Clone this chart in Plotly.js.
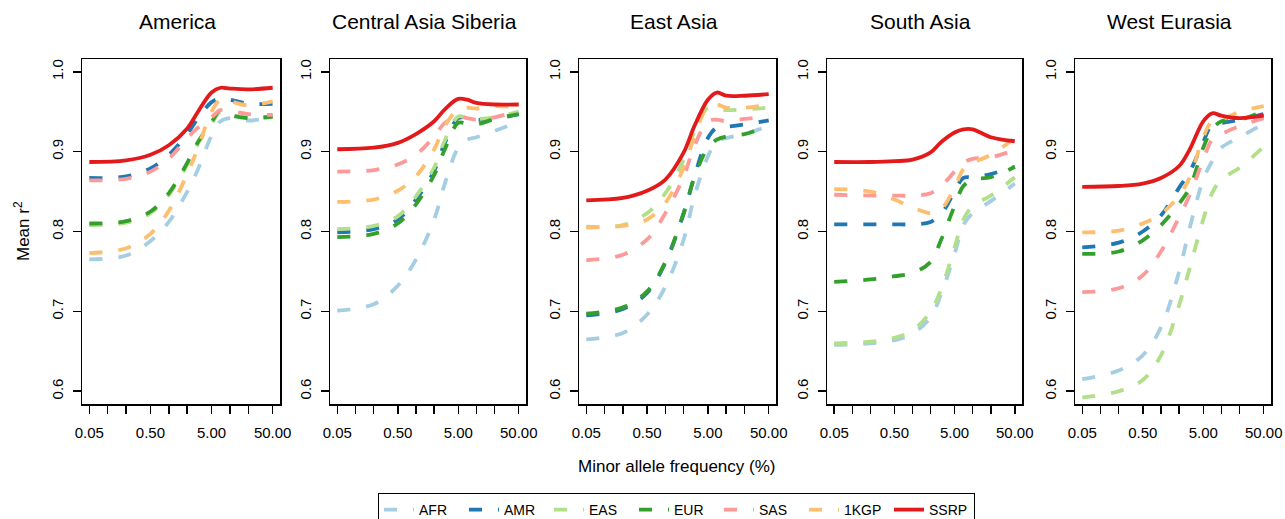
<!DOCTYPE html>
<html>
<head>
<meta charset="utf-8">
<script src="https://cdn.plot.ly/plotly-3.0.1.min.js"></script>
<style>html,body{margin:0;padding:0;background:#fff;overflow:hidden;}#chart{width:1285px;height:519px;}</style>
</head>
<body>
<div id="chart"></div>
<script>
// Minor allele frequency (%) sample points
const maf = [0.05, 0.2, 0.5, 1, 2, 3, 5, 7, 10, 20, 50];

const regions = ["America", "Central Asia Siberia", "East Asia", "South Asia", "West Eurasia"];
const seriesNames = ["AFR", "AMR", "EAS", "EUR", "SAS", "1KGP", "SSRP"];

// America
const AFR_America  = [0.765, 0.770, 0.788, 0.812, 0.850, 0.878, 0.920, 0.938, 0.942, 0.939, 0.943];
const AMR_America  = [0.867, 0.869, 0.879, 0.896, 0.922, 0.942, 0.962, 0.967, 0.965, 0.960, 0.960];
const EAS_America  = [0.808, 0.811, 0.823, 0.846, 0.884, 0.910, 0.935, 0.950, 0.946, 0.943, 0.943];
const EUR_America  = [0.810, 0.813, 0.825, 0.848, 0.886, 0.912, 0.937, 0.952, 0.946, 0.942, 0.944];
const SAS_America  = [0.864, 0.866, 0.875, 0.891, 0.917, 0.930, 0.943, 0.952, 0.951, 0.947, 0.946];
const KGP_America  = [0.773, 0.779, 0.797, 0.826, 0.872, 0.905, 0.950, 0.965, 0.963, 0.958, 0.963];
const SSRP_America = [0.887, 0.889, 0.896, 0.908, 0.929, 0.950, 0.974, 0.980, 0.979, 0.978, 0.980];

// Central Asia Siberia
const AFR_CAS  = [0.701, 0.709, 0.732, 0.765, 0.815, 0.860, 0.905, 0.915, 0.918, 0.926, 0.937];
const AMR_CAS  = [0.799, 0.803, 0.815, 0.840, 0.876, 0.911, 0.942, 0.942, 0.940, 0.941, 0.947];
const EAS_CAS  = [0.803, 0.807, 0.819, 0.844, 0.880, 0.914, 0.944, 0.942, 0.941, 0.943, 0.950];
const EUR_CAS  = [0.793, 0.797, 0.810, 0.834, 0.871, 0.903, 0.936, 0.935, 0.934, 0.941, 0.947];
const SAS_CAS  = [0.875, 0.877, 0.884, 0.896, 0.919, 0.936, 0.944, 0.942, 0.940, 0.943, 0.951];
const KGP_CAS  = [0.837, 0.840, 0.851, 0.869, 0.903, 0.932, 0.953, 0.955, 0.954, 0.957, 0.955];
const SSRP_CAS = [0.903, 0.905, 0.911, 0.922, 0.938, 0.953, 0.966, 0.965, 0.961, 0.959, 0.959];

// East Asia
const AFR_EA  = [0.665, 0.673, 0.696, 0.731, 0.790, 0.844, 0.894, 0.913, 0.917, 0.922, 0.932];
const AMR_EA  = [0.695, 0.703, 0.723, 0.761, 0.823, 0.869, 0.917, 0.930, 0.931, 0.934, 0.939];
const EAS_EA  = [0.806, 0.808, 0.823, 0.848, 0.890, 0.925, 0.955, 0.953, 0.952, 0.953, 0.955];
const EUR_EA  = [0.697, 0.705, 0.725, 0.762, 0.823, 0.868, 0.905, 0.915, 0.919, 0.922, 0.932];
const SAS_EA  = [0.764, 0.771, 0.790, 0.823, 0.869, 0.907, 0.938, 0.940, 0.938, 0.941, 0.944];
const KGP_EA  = [0.805, 0.807, 0.815, 0.836, 0.880, 0.919, 0.957, 0.959, 0.955, 0.955, 0.959];
const SSRP_EA = [0.839, 0.842, 0.851, 0.865, 0.899, 0.932, 0.965, 0.974, 0.970, 0.970, 0.972];

// South Asia
const AFR_SA  = [0.658, 0.660, 0.664, 0.672, 0.693, 0.722, 0.772, 0.808, 0.823, 0.838, 0.860];
const AMR_SA  = [0.809, 0.809, 0.809, 0.809, 0.812, 0.822, 0.850, 0.867, 0.868, 0.872, 0.881];
const EAS_SA  = [0.660, 0.662, 0.667, 0.676, 0.700, 0.728, 0.780, 0.815, 0.832, 0.845, 0.868];
const EUR_SA  = [0.737, 0.740, 0.744, 0.748, 0.762, 0.790, 0.832, 0.857, 0.865, 0.868, 0.881];
const SAS_SA  = [0.846, 0.845, 0.845, 0.845, 0.848, 0.857, 0.875, 0.886, 0.891, 0.893, 0.902];
const KGP_SA  = [0.853, 0.850, 0.840, 0.830, 0.823, 0.828, 0.855, 0.878, 0.886, 0.896, 0.917];
const SSRP_SA = [0.887, 0.887, 0.888, 0.890, 0.899, 0.912, 0.924, 0.928, 0.928, 0.918, 0.913];

// West Eurasia
const AFR_WE  = [0.615, 0.626, 0.645, 0.680, 0.750, 0.805, 0.865, 0.888, 0.905, 0.918, 0.935];
const AMR_WE  = [0.780, 0.786, 0.800, 0.820, 0.855, 0.875, 0.912, 0.934, 0.936, 0.940, 0.947];
const EAS_WE  = [0.592, 0.600, 0.614, 0.645, 0.708, 0.755, 0.815, 0.848, 0.865, 0.880, 0.906];
const EUR_WE  = [0.772, 0.775, 0.789, 0.808, 0.835, 0.855, 0.905, 0.928, 0.938, 0.940, 0.951];
const SAS_WE  = [0.724, 0.729, 0.745, 0.775, 0.818, 0.846, 0.890, 0.915, 0.922, 0.932, 0.942];
const KGP_WE  = [0.799, 0.801, 0.810, 0.822, 0.845, 0.868, 0.918, 0.938, 0.940, 0.950, 0.957];
const SSRP_WE = [0.856, 0.857, 0.860, 0.867, 0.882, 0.903, 0.938, 0.948, 0.945, 0.942, 0.945];

const xTickVals = [0.05, 0.5, 5, 50];
const xTickText = ["0.05", "0.50", "5.00", "50.00"];
const xMinorTickVals = [0.1, 0.2, 1, 2, 10, 20];
const yTickVals = [0.6, 0.7, 0.8, 0.9, 1.0];
const yTickText = ["0.6", "0.7", "0.8", "0.9", "1.0"];

const panelData = [
  [AFR_America, AMR_America, EAS_America, EUR_America, SAS_America, KGP_America, SSRP_America],
  [AFR_CAS, AMR_CAS, EAS_CAS, EUR_CAS, SAS_CAS, KGP_CAS, SSRP_CAS],
  [AFR_EA, AMR_EA, EAS_EA, EUR_EA, SAS_EA, KGP_EA, SSRP_EA],
  [AFR_SA, AMR_SA, EAS_SA, EUR_SA, SAS_SA, KGP_SA, SSRP_SA],
  [AFR_WE, AMR_WE, EAS_WE, EUR_WE, SAS_WE, KGP_WE, SSRP_WE]
];

const colors = ["#a6cee3", "#1f78b4", "#b2df8a", "#33a02c", "#fb9a99", "#fdbf6f", "#e31a1c"];
const FONT = "Liberation Sans, Arial, Helvetica, sans-serif";
const W = 1285, H = 519;
const lefts = [82, 330, 579, 827, 1075];
const rights = [280, 526, 776, 1022, 1271];
const plotTop = 59, plotBottom = 404;

const traces = [];
panelData.forEach((series, p) => {
  const xa = p === 0 ? "x" : "x" + (p + 1);
  const ya = p === 0 ? "y" : "y" + (p + 1);
  series.forEach((vals, s) => {
    const isSolid = seriesNames[s] === "SSRP";
    traces.push({
      type: "scatter", mode: "lines",
      x: maf, y: vals,
      xaxis: xa, yaxis: ya,
      name: seriesNames[s],
      legendgroup: seriesNames[s],
      showlegend: p === 0,
      line: {color: colors[s], width: 3.8, dash: isSolid ? "solid" : "13px,16px", shape: "spline", smoothing: 1},
      hoverinfo: "skip"
    });
  });
});

const layout = {
  width: W, height: H,
  margin: {l: 0, r: 0, t: 0, b: 0, pad: 0, autoexpand: false},
  paper_bgcolor: "#fff", plot_bgcolor: "#fff",
  font: {family: FONT, color: "#000", size: 15},
  showlegend: true,
  legend: {
    orientation: "h", x: 676.5 / W, xanchor: "center", y: 1 - 493 / H, yanchor: "top",
    bordercolor: "#000", borderwidth: 1, bgcolor: "#fff",
    font: {family: FONT, size: 14, color: "#000"},
    itemwidth: 30, entrywidth: 40, entrywidthmode: "pixels", traceorder: "normal"
  },
  annotations: []
};

const xRange = [Math.log10(0.05) - 0.12, Math.log10(50) + 0.12];
const yDomain = [1 - plotBottom / H, 1 - plotTop / H];

for (let p = 0; p < 5; p++) {
  const sx = p === 0 ? "xaxis" : "xaxis" + (p + 1);
  const sy = p === 0 ? "yaxis" : "yaxis" + (p + 1);
  const ax = p === 0 ? "x" : "x" + (p + 1);
  const ay = p === 0 ? "y" : "y" + (p + 1);
  layout[sx] = {
    type: "log", range: xRange, domain: [lefts[p] / W, rights[p] / W], anchor: ay,
    tickmode: "array", tickvals: xTickVals, ticktext: xTickText,
    ticks: "outside", ticklen: 8, tickwidth: 1.5, tickcolor: "#000",
    minor: {tickmode: "array", tickvals: xMinorTickVals, ticks: "outside", ticklen: 8, tickwidth: 1.5, tickcolor: "#000", showgrid: false},
    showline: true, mirror: true, linecolor: "#000", linewidth: 1.5,
    showgrid: false, zeroline: false, fixedrange: true, automargin: false,
    tickfont: {family: FONT, size: 15, color: "#000"}, ticklabelstandoff: 6
  };
  layout[sy] = {
    range: [0.584, 1.016], domain: yDomain, anchor: ax,
    tickmode: "array", tickvals: yTickVals, ticktext: yTickText, tickangle: -90,
    ticks: "outside", ticklen: 8, tickwidth: 1.5, tickcolor: "#000",
    showline: true, mirror: true, linecolor: "#000", linewidth: 1.5,
    showgrid: false, zeroline: false, fixedrange: true, automargin: false,
    tickfont: {family: FONT, size: 15, color: "#000"}, ticklabelstandoff: 4
  };
  layout.annotations.push({
    text: regions[p], xref: "paper", yref: "paper",
    x: ((lefts[p] + rights[p]) / 2 - 4) / W, y: 1 - 22 / H,
    xanchor: "center", yanchor: "middle", showarrow: false,
    font: {family: FONT, size: 21, color: "#000"}
  });
}

layout.annotations.push({
  text: "Minor allele frequency (%)", xref: "paper", yref: "paper",
  x: 676.5 / W, y: 1 - 466 / H, xanchor: "center", yanchor: "middle", showarrow: false,
  font: {family: FONT, size: 17, color: "#000"}
});
layout.annotations.push({
  text: "Mean r<sup>2</sup>", xref: "paper", yref: "paper",
  x: 22 / W, y: 1 - 231 / H, xanchor: "center", yanchor: "middle", showarrow: false,
  textangle: -90, font: {family: FONT, size: 17, color: "#000"}
});

Plotly.newPlot("chart", traces, layout, {staticPlot: true, displayModeBar: false});
</script>
</body>
</html>
